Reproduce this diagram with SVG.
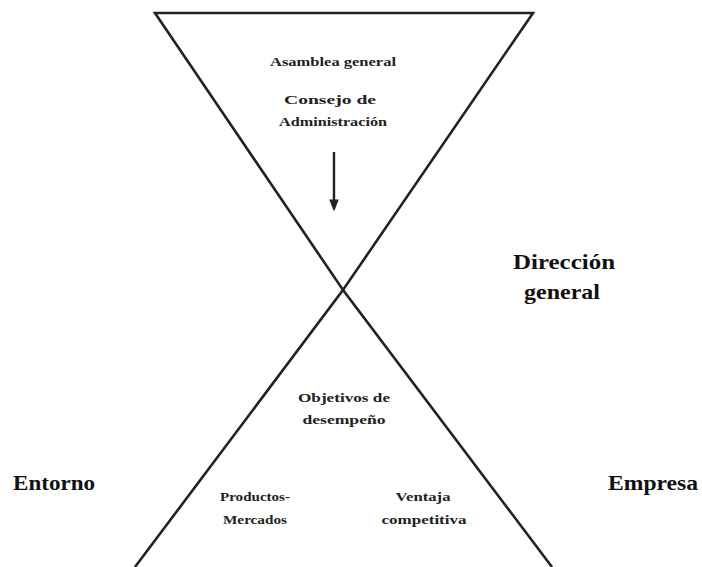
<svg xmlns="http://www.w3.org/2000/svg" width="702" height="567" viewBox="0 0 702 567">
<style>
.ln{fill:none;stroke:#222;stroke-width:2.6;stroke-linejoin:miter}
.s{font-family:"Liberation Serif",serif;font-weight:bold;font-size:13.5px;fill:#222;text-anchor:middle}
.b{font-family:"Liberation Serif",serif;font-weight:bold;font-size:22px;fill:#111;text-anchor:middle}
</style>
<defs>
<marker id="ah" markerWidth="5" markerHeight="4" refX="4" refY="2" orient="auto" markerUnits="strokeWidth">
<path d="M0,0 L5,2 L0,4 Z" fill="#222"/>
</marker>
</defs>
<rect width="702" height="567" fill="#fff"/>
<g id="connectors">
<path id="top-triangle" class="ln" d="M155,13 L533,13 L343,290 Z"/>
<path id="bottom-triangle" class="ln" d="M135,567 L343,290 L552,567"/>
<line id="arrow" x1="334" y1="152" x2="334" y2="209" stroke="#222" stroke-width="2.4" marker-end="url(#ah)"/>
</g>
<g id="asamblea"><text class="s" x="333" y="66" textLength="126" lengthAdjust="spacingAndGlyphs">Asamblea general</text></g>
<g id="consejo">
<text class="s" x="330" y="104" textLength="92" lengthAdjust="spacingAndGlyphs">Consejo de</text>
<text class="s" x="333" y="126" textLength="108" lengthAdjust="spacingAndGlyphs">Administración</text>
</g>
<g id="direccion">
<text class="b" x="564" y="269" textLength="102" lengthAdjust="spacingAndGlyphs">Dirección</text>
<text class="b" x="562" y="299" textLength="76" lengthAdjust="spacingAndGlyphs">general</text>
</g>
<g id="objetivos">
<text class="s" x="344" y="402" textLength="92" lengthAdjust="spacingAndGlyphs">Objetivos de</text>
<text class="s" x="344" y="424" textLength="83" lengthAdjust="spacingAndGlyphs">desempeño</text>
</g>
<g id="productos">
<text class="s" x="255" y="501" textLength="70" lengthAdjust="spacingAndGlyphs">Productos-</text>
<text class="s" x="255" y="524" textLength="64" lengthAdjust="spacingAndGlyphs">Mercados</text>
</g>
<g id="ventaja">
<text class="s" x="423" y="501" textLength="55" lengthAdjust="spacingAndGlyphs">Ventaja</text>
<text class="s" x="424" y="524" textLength="85" lengthAdjust="spacingAndGlyphs">competitiva</text>
</g>
<g id="entorno"><text class="b" x="54" y="490" textLength="82" lengthAdjust="spacingAndGlyphs">Entorno</text></g>
<g id="empresa"><text class="b" x="653" y="490" textLength="90" lengthAdjust="spacingAndGlyphs">Empresa</text></g>
</svg>
